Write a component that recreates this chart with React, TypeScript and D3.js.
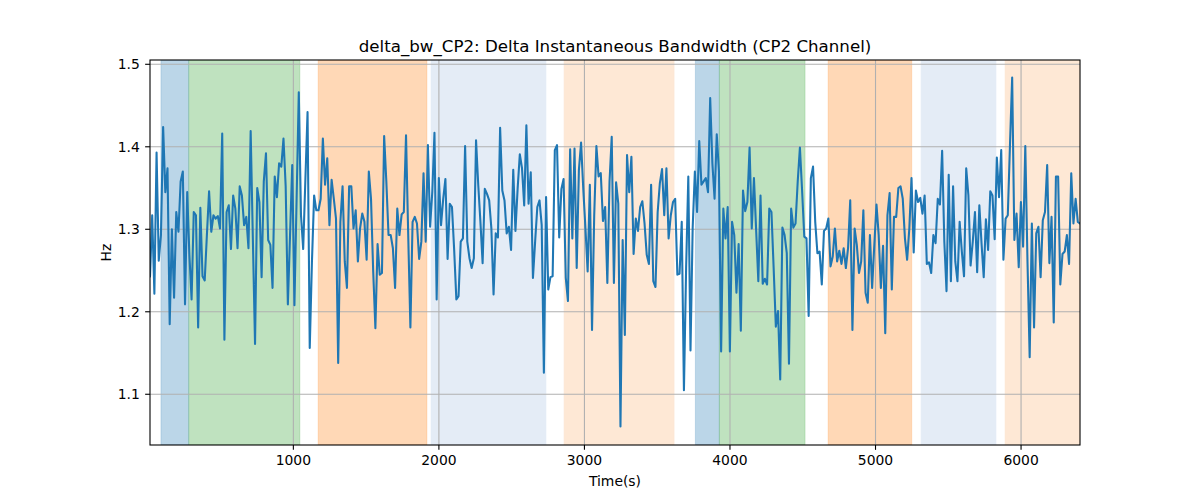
import React from 'react';
import * as d3 from 'd3';

const TITLE = 'delta_bw_CP2: Delta Instantaneous Bandwidth (CP2 Channel)';
const X_LABEL = 'Time(s)';
const Y_LABEL = 'Hz';

const VALUES: number[] = [
  1.243, 1.317, 1.222, 1.393, 1.262, 1.293, 1.424, 1.345, 1.374, 1.185,
  1.300, 1.217, 1.321, 1.297, 1.358, 1.370, 1.209, 1.345, 1.269, 1.215,
  1.321, 1.317, 1.181, 1.326, 1.243, 1.238, 1.293, 1.346, 1.297, 1.317,
  1.313, 1.316, 1.301, 1.416, 1.166, 1.321, 1.329, 1.276, 1.341, 1.325,
  1.277, 1.352, 1.341, 1.305, 1.315, 1.277, 1.419, 1.289, 1.161, 1.350,
  1.333, 1.242, 1.358, 1.392, 1.287, 1.281, 1.229, 1.364, 1.339, 1.380,
  1.376, 1.410, 1.352, 1.209, 1.293, 1.378, 1.208, 1.337, 1.466, 1.317,
  1.276,
  1.360, 1.442, 1.156, 1.260, 1.341, 1.323, 1.323, 1.337, 1.410, 1.354,
  1.386, 1.305, 1.360, 1.337, 1.313, 1.138, 1.309, 1.352, 1.261, 1.229,
  1.352, 1.352, 1.301, 1.323, 1.261, 1.301, 1.319, 1.309, 1.263, 1.370,
  1.337, 1.249, 1.180, 1.282, 1.245, 1.247, 1.413, 1.358, 1.293, 1.293,
  1.277, 1.229, 1.325, 1.293, 1.318, 1.321, 1.414, 1.293, 1.181, 1.309,
  1.315, 1.307, 1.264, 1.285, 1.368, 1.285, 1.402, 1.303, 1.345, 1.417,
  1.215, 1.362, 1.305, 1.337, 1.361, 1.264, 1.331, 1.327, 1.275, 1.215,
  1.219,
  1.285, 1.289, 1.401, 1.285, 1.265, 1.253, 1.265, 1.408, 1.354, 1.309,
  1.259, 1.349, 1.343, 1.335, 1.301, 1.221, 1.295, 1.290, 1.423, 1.347,
  1.335, 1.295, 1.303, 1.275, 1.372, 1.298, 1.349, 1.391, 1.374, 1.329,
  1.426, 1.331, 1.369, 1.241, 1.285, 1.327, 1.335, 1.305, 1.126, 1.339,
  1.227, 1.242, 1.243, 1.396, 1.402, 1.290, 1.349, 1.361, 1.241, 1.213,
  1.397, 1.289, 1.398, 1.253, 1.372, 1.405, 1.349, 1.301, 1.249, 1.354,
  1.178, 1.317, 1.401, 1.364, 1.368, 1.310, 1.327, 1.235, 1.358, 1.412,
  1.235,
  1.357, 1.331, 1.061, 1.287, 1.172, 1.390, 1.345, 1.388, 1.270, 1.313,
  1.298, 1.327, 1.334, 1.307, 1.269, 1.258, 1.354, 1.237, 1.230, 1.321,
  1.356, 1.373, 1.317, 1.374, 1.289, 1.317, 1.333, 1.337, 1.245, 1.246,
  1.309, 1.105, 1.253, 1.364, 1.153, 1.302, 1.370, 1.321, 1.407, 1.354,
  1.358, 1.362, 1.345, 1.459, 1.380, 1.337, 1.415, 1.370, 1.152, 1.325,
  1.289, 1.327, 1.152, 1.309, 1.293, 1.223, 1.282, 1.177, 1.347, 1.322,
  1.333, 1.399, 1.301, 1.362, 1.299, 1.237, 1.341, 1.234, 1.240, 1.233,
  1.325,
  1.321, 1.253, 1.182, 1.201, 1.118, 1.302, 1.293, 1.271, 1.137, 1.325,
  1.302, 1.307, 1.358, 1.399, 1.347, 1.291, 1.289, 1.195, 1.362, 1.376,
  1.309, 1.271, 1.273, 1.233, 1.298, 1.301, 1.313, 1.255, 1.267, 1.301,
  1.261, 1.274, 1.258, 1.277, 1.253, 1.277, 1.335, 1.178, 1.301, 1.281,
  1.247, 1.261, 1.323, 1.223, 1.211, 1.293, 1.229, 1.281, 1.330, 1.293,
  1.229, 1.280, 1.174, 1.317, 1.344, 1.227, 1.315, 1.315, 1.350, 1.352,
  1.337, 1.289, 1.263, 1.301, 1.362, 1.272, 1.347, 1.333, 1.338, 1.319,
  1.341,
  1.258, 1.260, 1.247, 1.293, 1.283, 1.337, 1.330, 1.395, 1.285, 1.225,
  1.366, 1.237, 1.352, 1.261, 1.237, 1.309, 1.273, 1.243, 1.374, 1.341,
  1.256, 1.285, 1.321, 1.248, 1.329, 1.283, 1.242, 1.312, 1.275, 1.346,
  1.341, 1.288, 1.387, 1.339, 1.396, 1.263, 1.313, 1.317, 1.402, 1.484,
  1.287, 1.319, 1.254, 1.333, 1.279, 1.401, 1.261, 1.145, 1.307, 1.181,
  1.295, 1.303, 1.242, 1.311, 1.321, 1.378, 1.259, 1.315, 1.187, 1.364,
  1.364, 1.233, 1.270, 1.273, 1.293, 1.258, 1.368, 1.307, 1.337, 1.309,
  1.307,
];

// sampling: first and last sample times (s)
const T_START = 15;
const T_END = 6405;

const X_TICKS = [1000, 2000, 3000, 4000, 5000, 6000];
const Y_TICKS = [1.1, 1.2, 1.3, 1.4, 1.5];
const Y_MIN = 1.0385;
const Y_MAX = 1.5052;

const REGION_STARTS = [90, 281, 1170, 1946, 2860, 3762, 3927, 4674, 5313, 5890];
const REGION_ENDS = [281, 1045, 1918, 2736, 3616, 3927, 4516, 5249, 5828, 6405];
const REGION_KINDS = ['blue', 'green', 'orange', 'lightblue', 'lightorange', 'blue', 'green', 'orange', 'lightblue', 'lightorange'];

const KIND_FILL: Record<string, string> = {
  blue: '#1f77b4',
  green: '#2ca02c',
  orange: '#ff7f0e',
  lightblue: '#e4ecf6',
  lightorange: '#fee8d5',
};
const KIND_OPACITY: Record<string, number> = {
  blue: 0.3,
  green: 0.3,
  orange: 0.3,
  lightblue: 1,
  lightorange: 1,
};

const W = 1200;
const H = 500;
const M = { left: 150, right: 1080, top: 60, bottom: 445 };
const FONT = '"DejaVu Sans", sans-serif';

export default function App() {
  const n = VALUES.length;
  const times = d3.range(n).map((i) => T_START + (i * (T_END - T_START)) / (n - 1));
  const x = d3.scaleLinear().domain([T_START, T_END]).range([M.left, M.right]);
  const y = d3.scaleLinear().domain([Y_MIN, Y_MAX]).range([M.bottom, M.top]);
  const line = d3
    .line<number>()
    .x((_, i) => x(times[i]))
    .y((d) => y(d));
  const tickLen = 4.86;

  return (
    <svg
      width={W}
      height={H}
      style={{ position: 'absolute', left: 0, top: 0, background: '#fff' }}
      fontFamily={FONT}
    >
      <defs>
        <clipPath id="plotclip">
          <rect x={M.left} y={M.top} width={M.right - M.left} height={M.bottom - M.top} />
        </clipPath>
      </defs>
      <rect x={0} y={0} width={W} height={H} fill="#fff" />
      <g clipPath="url(#plotclip)">
        {REGION_STARTS.map((s, i) => {
          const k = REGION_KINDS[i];
          const x0 = x(s);
          const x1 = x(REGION_ENDS[i]);
          return (
            <rect
              key={i}
              x={x0}
              y={M.top}
              width={x1 - x0}
              height={M.bottom - M.top}
              fill={KIND_FILL[k]}
              fillOpacity={KIND_OPACITY[k]}
              stroke={KIND_FILL[k]}
              strokeOpacity={KIND_OPACITY[k] * 0.6}
              strokeWidth={1}
            />
          );
        })}
        {X_TICKS.map((t) => (
          <line key={'gx' + t} x1={x(t)} x2={x(t)} y1={M.top} y2={M.bottom} stroke="#b0b0b0" strokeWidth={1.1} />
        ))}
        {Y_TICKS.map((t) => (
          <line key={'gy' + t} x1={M.left} x2={M.right} y1={y(t)} y2={y(t)} stroke="#b0b0b0" strokeWidth={1.1} />
        ))}
        <path d={line(VALUES) || ''} fill="none" stroke="#1f77b4" strokeWidth={2.08} strokeLinejoin="round" strokeLinecap="square" />
      </g>
      <rect
        x={M.left}
        y={M.top}
        width={M.right - M.left}
        height={M.bottom - M.top}
        fill="none"
        stroke="#000"
        strokeWidth={1.1}
      />
      {X_TICKS.map((t) => (
        <g key={'tx' + t}>
          <line x1={x(t)} x2={x(t)} y1={M.bottom} y2={M.bottom + tickLen} stroke="#000" strokeWidth={1.1} />
          <text x={x(t)} y={M.bottom + 20.3} textAnchor="middle" fontSize={13.9} fill="#000">
            {t}
          </text>
        </g>
      ))}
      {Y_TICKS.map((t) => (
        <g key={'ty' + t}>
          <line x1={M.left - tickLen} x2={M.left} y1={y(t)} y2={y(t)} stroke="#000" strokeWidth={1.1} />
          <text x={M.left - 2 * tickLen - 0.5} y={y(t) + 5} textAnchor="end" fontSize={13.9} fill="#000">
            {t.toFixed(1)}
          </text>
        </g>
      ))}
      <text x={(M.left + M.right) / 2} y={51.5} textAnchor="middle" fontSize={16.67} fill="#000">
        {TITLE}
      </text>
      <text x={(M.left + M.right) / 2} y={486} textAnchor="middle" fontSize={13.9} fill="#000">
        {X_LABEL}
      </text>
      <text
        transform={`translate(110.5, ${(M.top + M.bottom) / 2}) rotate(-90)`}
        textAnchor="middle"
        fontSize={13.9}
        fill="#000"
      >
        {Y_LABEL}
      </text>
    </svg>
  );
}
